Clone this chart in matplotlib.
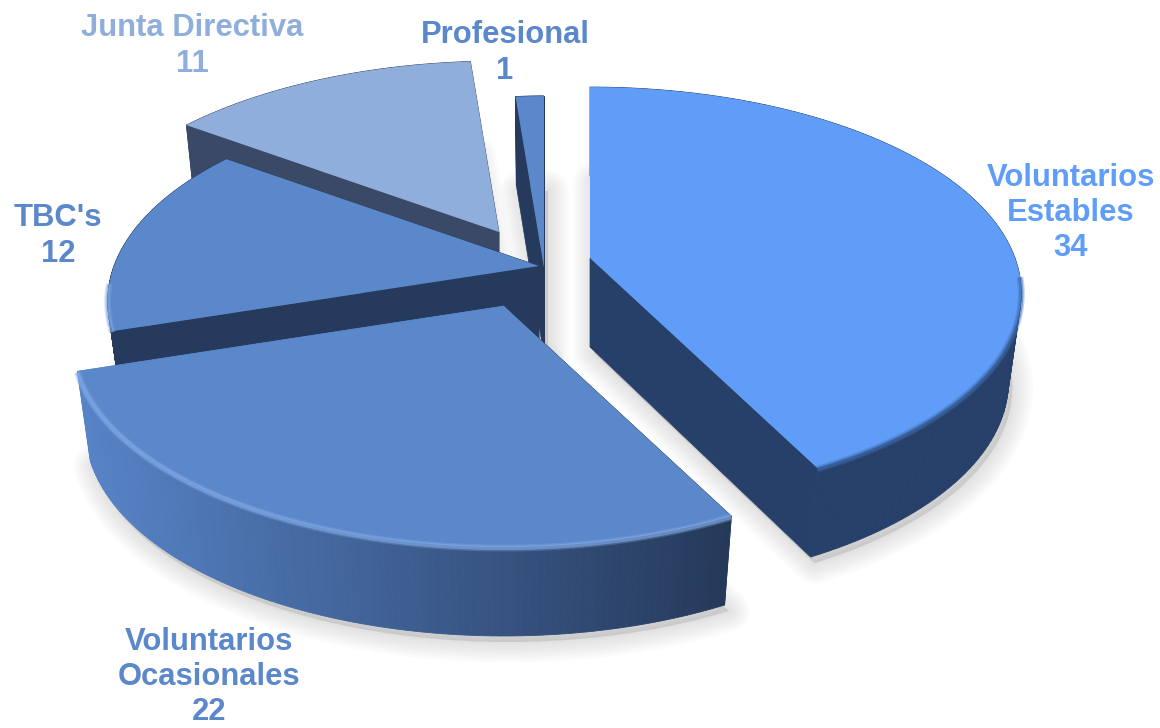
#!/usr/bin/env python3
import numpy as np
import matplotlib
matplotlib.use("Agg")
import matplotlib.pyplot as plt
from matplotlib.colors import to_rgb

# data, clockwise from twelve o'clock
names = ['Voluntarios\nEstables', 'Voluntarios\nOcasionales', "TBC's", 'Junta Directiva', 'Profesional']
values = [34, 22, 12, 11, 1]

# look of each slice
top_colors = ['#5F9DF8', '#5B87CB', '#5B87CB', '#8FAEDC', '#5B87CB']
wall_left = ['#274069', '#5784C8', '#253A5C', '#3A4A66', '#253A5C']
wall_right = ['#274069', '#25395A', '#253A5C', '#3A4A66', '#253A5C']
rim_colors = ['#3F6CB0', '#86AEEA', '#7FA6E2', '#A5BFE6', '#5B87CB']
apex_x = [590, 504, 539, 499, 544]
apex_y = [258, 306, 266, 232, 267]
label_x = [1071, 209, 58, 192, 505]
label_y = [213, 677, 236, 46, 53]

RX, RY, PERSP = 425, 200, 0.17
DEPTH, SHRINK = 89, 0.97


def project(deg, ax0, ay0):
    # point on the rim of a circle seen in perspective
    t = np.radians(deg)
    x, y = np.sin(t), np.cos(t)
    s = 1 / (1 + PERSP * y)
    return ax0 + RX * x * s, ay0 - RY * y * s


def lower(px, py, ax0):
    return ax0 + (px - ax0) * SHRINK, py + DEPTH


def mix(c1, c2, f):
    a, b = np.array(to_rgb(c1)), np.array(to_rgb(c2))
    return tuple(a + (b - a) * f)


fig = plt.figure(figsize=(11.6, 7.28), dpi=100)
ax = fig.add_axes([0, 0, 1, 1])
ax.set_xlim(0, 1160)
ax.set_ylim(728, 0)
ax.axis('off')

edges = np.cumsum([0] + values) / sum(values) * 360
arcs = []
for i in range(len(values)):
    deg = np.linspace(edges[i], edges[i + 1], 120)
    px, py = project(deg, apex_x[i], apex_y[i])
    bx, by = lower(px, py, apex_x[i])
    arcs.append((deg, px, py, bx, by))

# soft shadow under the pie
for w in [30, 26, 22, 18, 14, 10, 6, 3]:
    for i in range(len(values)):
        deg, px, py, bx, by = arcs[i]
        xs = np.r_[bx, apex_x[i]] + 4
        ys = np.r_[by, apex_y[i] + DEPTH] + 6
        ax.fill(xs, ys, color='#555555', alpha=0.018, lw=w, zorder=1, joinstyle='round')

# back slices first so the front ones cover them
order = [3, 4, 2, 0, 1]
for n, i in enumerate(order):
    z = 2 + n
    deg, px, py, bx, by = arcs[i]
    a0, a1 = apex_x[i], apex_y[i]
    b0, b1 = lower(a0, a1, a0)

    # the two cut faces
    for k in [0, -1]:
        ax.fill([a0, px[k], bx[k], b0], [a1, py[k], by[k], b1],
                color=wall_right[i] if k == 0 else wall_left[i],
                lw=0.5, zorder=z)

    # outer wall, shaded from left to right
    for k in range(len(px) - 1):
        f = np.clip((px[k] - 75) / (733 - 75), 0, 1)
        c = mix(wall_left[i], wall_right[i], f)
        ax.fill([px[k], px[k + 1], bx[k + 1], bx[k]],
                [py[k], py[k + 1], by[k + 1], by[k]],
                color=c, lw=0.6, zorder=z)

    # top face, with a bevel only along the near part of the rim
    ax.fill(np.r_[a0, px], np.r_[a1, py], color=top_colors[i], lw=0, zorder=z + 0.2)
    near = np.cos(np.radians(deg)) < -0.08
    if near.any():
        for w, al in zip([5, 3], [0.3, 0.55]):
            ax.plot(px[near], py[near] + 1, color=rim_colors[i], lw=w, alpha=al,
                    solid_capstyle='butt', zorder=z + 0.3)

for i in range(len(values)):
    ax.text(label_x[i], label_y[i], f'{names[i]}\n{values[i]}',
            ha='center', va='center', ma='center', fontsize=22.3, fontweight='bold',
            family='Liberation Sans', color=top_colors[i], linespacing=1.22, zorder=20)

fig.savefig('out.png', dpi=100, facecolor='white')
